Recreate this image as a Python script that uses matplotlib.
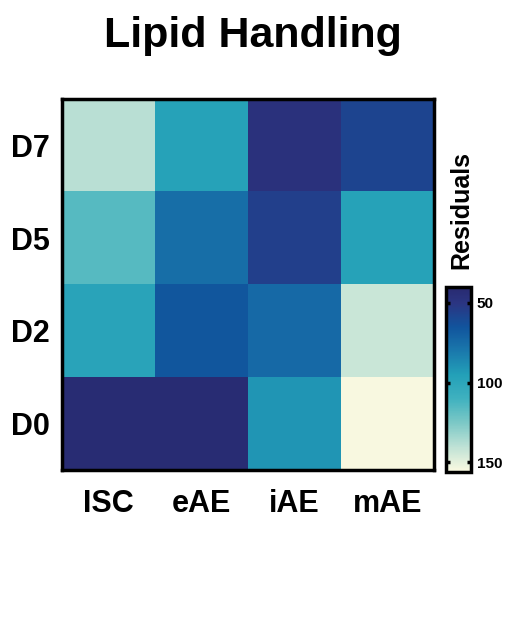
import numpy as np
import matplotlib
matplotlib.use("Agg")
import matplotlib.pyplot as plt
import matplotlib.colors as mcolors

plt.rcParams['font.family'] = ['Liberation Sans', 'DejaVu Sans']

# data
cell_types = ["ISC", "eAE", "iAE", "mAE"]
days = ["D0", "D2", "D5", "D7"]
# rows follow days (D0 at bottom)
res_D0 = [42, 42, 91, 155]
res_D2 = [98, 66, 74, 143]
res_D5 = [116, 76, 55, 97]
res_D7 = [139, 97, 47, 58]
vmin, vmax = 40, 156
cbar_ticks = [50, 100, 150]

data = np.array([res_D0, res_D2, res_D5, res_D7])

# colour ramp (dark navy -> cream)
ramp_vals = [40, 50, 65, 80, 95, 110, 125, 140, 156]
ramp_cols = ["#282a70", "#2b3582", "#11549d", "#1a78ac", "#23a0b8",
             "#3fb1bf", "#7bc8c6", "#bde1d5", "#fcfae1"]
pos = [(v - vmin) / (vmax - vmin) for v in ramp_vals]
cmap = mcolors.LinearSegmentedColormap.from_list("res", list(zip(pos, ramp_cols)))

fig = plt.figure(figsize=(5.06, 6.34), dpi=100)
ax = fig.add_axes([0.1225, 0.2587, 0.735, 0.5852])
im = ax.imshow(data, cmap=cmap, vmin=vmin, vmax=vmax, origin='lower',
               aspect='auto', interpolation='nearest')

ax.set_xticks(range(len(cell_types)))
ax.set_xticklabels(cell_types, fontsize=22, fontweight='bold')
ax.set_yticks(range(len(days)))
ax.set_yticklabels(days, fontsize=22, fontweight='bold')
ax.tick_params(axis='y', length=0, pad=9)
ax.tick_params(axis='x', length=0, pad=14)
for sp in ax.spines.values():
    sp.set_linewidth(2.5)

fig.text(0.5, 0.943, "Lipid Handling", ha='center', va='center',
         fontsize=31, fontweight='bold')

# colorbar
cax = fig.add_axes([0.8814, 0.2555, 0.0494, 0.2918])
cb = fig.colorbar(im, cax=cax, ticks=cbar_ticks)
cax.invert_yaxis()
cb.outline.set_linewidth(2.5)
cax.tick_params(direction='in', length=3, width=2.5, left=True, right=True,
                labelsize=11, pad=4)
for t in cax.get_yticklabels():
    t.set_fontweight('bold')

fig.text(0.912, 0.668, "Residuals", rotation=90, ha='center', va='center',
         fontsize=18, fontweight='bold')

fig.savefig("out.png", dpi=100)
